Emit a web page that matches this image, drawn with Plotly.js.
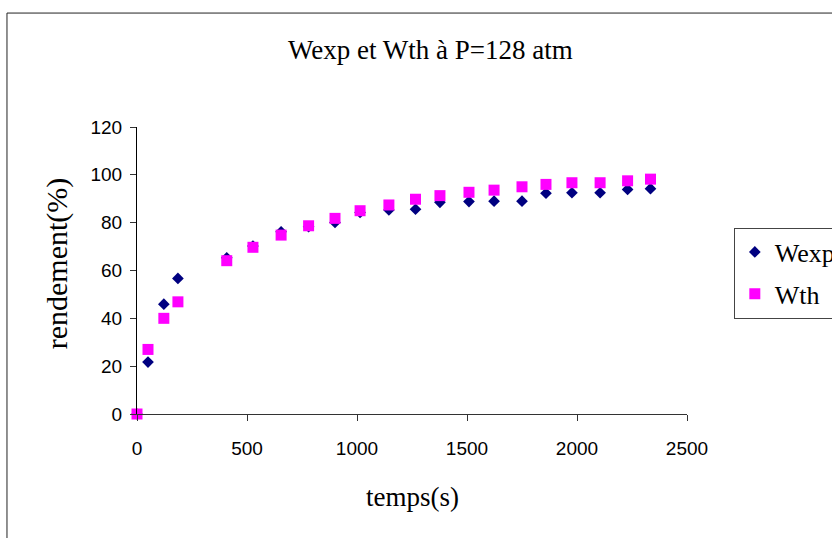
<!DOCTYPE html>
<html>
<head>
<meta charset="utf-8">
<script src="https://cdn.plot.ly/plotly-3.0.1.min.js"></script>
<style>html,body{margin:0;padding:0;background:#fff;overflow:hidden;}#chart{width:832px;height:538px;}</style>
</head>
<body>
<div id="chart"></div>
<script>
var temps = [0, 50, 122, 186, 408, 527, 655, 780, 900, 1014, 1145, 1266, 1377, 1509, 1623, 1750, 1859, 1977, 2105, 2230, 2334];
var wexp = [0, 21.7, 45.9, 56.7, 65.3, 70.2, 76.2, 78.3, 80.1, 84.3, 85.3, 85.6, 88.5, 88.8, 89.0, 89.0, 92.3, 92.5, 92.5, 93.9, 94.2];
var wth  = [0, 27.0, 40.0, 46.9, 64.1, 69.7, 74.8, 78.7, 81.8, 85.0, 87.4, 89.8, 91.3, 92.7, 93.6, 95.0, 96.0, 96.7, 96.7, 97.5, 98.2];
var xTicks = [0, 500, 1000, 1500, 2000, 2500];
var yTicks = [0, 20, 40, 60, 80, 100, 120];

var serif = '"Liberation Serif", "Times New Roman", serif';
var sans = '"Liberation Sans", Arial, sans-serif';

var traces = [
  {x: temps, y: wexp, name: 'Wexp', type: 'scatter', mode: 'markers', legendgroup: 'a',
   marker: {symbol: 'diamond', size: 9, color: '#000080'}, cliponaxis: false},
  {x: temps, y: wth, name: 'Wth', type: 'scatter', mode: 'markers', legendgroup: 'b',
   marker: {symbol: 'square', size: 11, color: '#FF00FF'}, cliponaxis: false}
];

var layout = {
  width: 832, height: 538,
  margin: {l: 137, r: 145, t: 127, b: 124},
  paper_bgcolor: '#fff', plot_bgcolor: '#fff',
  xaxis: {range: [0, 2500], tickvals: xTicks, ticktext: xTicks.map(String),
          showgrid: false, zeroline: false, showline: true, linecolor: '#333', linewidth: 1,
          ticks: 'outside', ticklen: 6, tickcolor: '#333', ticklabelstandoff: 11,
          tickfont: {family: sans, size: 19, color: '#000'}},
  yaxis: {range: [0, 120], tickvals: yTicks, ticktext: yTicks.map(String),
          showgrid: false, zeroline: false, showline: true, linecolor: '#000', linewidth: 1,
          ticks: 'outside', ticklen: 6, tickcolor: '#333', ticklabelstandoff: 4,
          tickfont: {family: sans, size: 19, color: '#000'}},
  showlegend: true,
  legend: {xref: 'container', yref: 'container', x: 0.882, y: 0.577, xanchor: 'left', yanchor: 'top',
           bordercolor: '#444', borderwidth: 1, bgcolor: '#fff', tracegroupgap: 5,
           font: {family: serif, size: 26, color: '#000'}},
  annotations: [
    {text: 'Wexp et Wth à P=128 atm', xref: 'paper', yref: 'paper', x: 0.533, y: 1.268,
     xanchor: 'center', yanchor: 'middle', showarrow: false,
     font: {family: serif, size: 27, color: '#000'}},
    {text: 'temps(s)', xref: 'paper', yref: 'paper', x: 0.5, y: -0.289,
     xanchor: 'center', yanchor: 'middle', showarrow: false,
     font: {family: serif, size: 27, color: '#000'}},
    {text: 'rendement(%)', xref: 'paper', yref: 'paper', x: -0.1455, y: 0.525, textangle: -90,
     xanchor: 'center', yanchor: 'middle', showarrow: false,
     font: {family: serif, size: 30, color: '#000'}}
  ],
  shapes: [{type: 'rect', xref: 'paper', yref: 'paper',
            x0: -0.2364, x1: 1.4, y0: -0.6, y1: 1.397,
            line: {color: '#222', width: 1}, fillcolor: 'rgba(0,0,0,0)', layer: 'below'}]
};

Plotly.newPlot('chart', traces, layout, {staticPlot: true, displayModeBar: false});
</script>
</body>
</html>
